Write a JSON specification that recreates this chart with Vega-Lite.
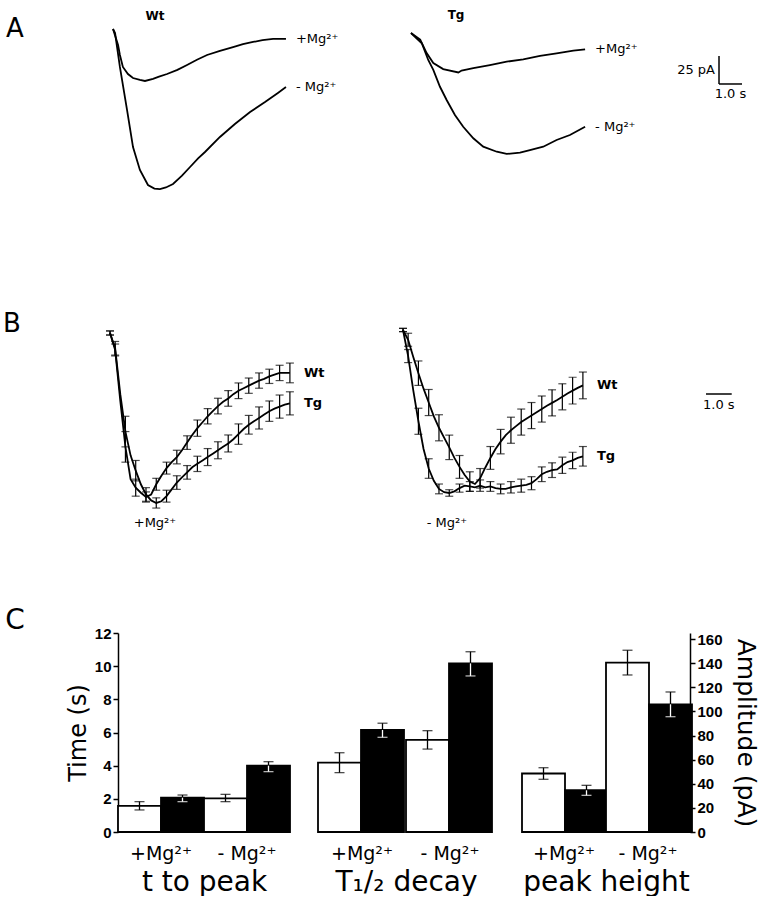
{
  "$schema": "https://vega.github.io/schema/vega-lite/v6.json",
  "padding": 0,
  "background": "white",
  "columns": 4,
  "align": "each",
  "bounds": "flush",
  "spacing": {"row": 0, "column": 28},
  "config": {"view": {"stroke": null}, "font": "DejaVu Sans", "axis": {"grid": false}},
  "datasets": {
    "traceA": [
      {"geno":"Wt","cond":"+Mg²⁺","t":0,"I":0},{"geno":"Wt","cond":"+Mg²⁺","t":0.22,"I":-14.3},{"geno":"Wt","cond":"+Mg²⁺","t":0.3,"I":-23.2},{"geno":"Wt","cond":"+Mg²⁺","t":0.43,"I":-33.9},{"geno":"Wt","cond":"+Mg²⁺","t":0.65,"I":-40.2},{"geno":"Wt","cond":"+Mg²⁺","t":0.87,"I":-43.8},{"geno":"Wt","cond":"+Mg²⁺","t":1.17,"I":-45.5},{"geno":"Wt","cond":"+Mg²⁺","t":1.39,"I":-46.4},{"geno":"Wt","cond":"+Mg²⁺","t":1.74,"I":-44.6},{"geno":"Wt","cond":"+Mg²⁺","t":2.0,"I":-42.5},{"geno":"Wt","cond":"+Mg²⁺","t":2.35,"I":-40.2},{"geno":"Wt","cond":"+Mg²⁺","t":2.8,"I":-36.5},{"geno":"Wt","cond":"+Mg²⁺","t":3.22,"I":-32.1},{"geno":"Wt","cond":"+Mg²⁺","t":3.65,"I":-27.5},{"geno":"Wt","cond":"+Mg²⁺","t":4.09,"I":-23.2},{"geno":"Wt","cond":"+Mg²⁺","t":4.65,"I":-19.5},{"geno":"Wt","cond":"+Mg²⁺","t":5.22,"I":-16.1},{"geno":"Wt","cond":"+Mg²⁺","t":5.65,"I":-13.5},{"geno":"Wt","cond":"+Mg²⁺","t":6.09,"I":-11.6},{"geno":"Wt","cond":"+Mg²⁺","t":6.5,"I":-10.0},{"geno":"Wt","cond":"+Mg²⁺","t":6.96,"I":-8.9},{"geno":"Wt","cond":"+Mg²⁺","t":7.52,"I":-8.9},
      {"geno":"Wt","cond":"- Mg²⁺","t":0,"I":0},{"geno":"Wt","cond":"- Mg²⁺","t":0.09,"I":-3.6},{"geno":"Wt","cond":"- Mg²⁺","t":0.3,"I":-33.9},{"geno":"Wt","cond":"- Mg²⁺","t":0.61,"I":-72.3},{"geno":"Wt","cond":"- Mg²⁺","t":0.87,"I":-105.4},{"geno":"Wt","cond":"- Mg²⁺","t":1.17,"I":-125.9},{"geno":"Wt","cond":"- Mg²⁺","t":1.52,"I":-139.3},{"geno":"Wt","cond":"- Mg²⁺","t":1.8,"I":-142.5},{"geno":"Wt","cond":"- Mg²⁺","t":2.04,"I":-142.9},{"geno":"Wt","cond":"- Mg²⁺","t":2.3,"I":-141.5},{"geno":"Wt","cond":"- Mg²⁺","t":2.61,"I":-138.4},{"geno":"Wt","cond":"- Mg²⁺","t":3.0,"I":-131.0},{"geno":"Wt","cond":"- Mg²⁺","t":3.35,"I":-123.2},{"geno":"Wt","cond":"- Mg²⁺","t":3.7,"I":-115.5},{"geno":"Wt","cond":"- Mg²⁺","t":4.0,"I":-109.8},{"geno":"Wt","cond":"- Mg²⁺","t":4.65,"I":-96.4},{"geno":"Wt","cond":"- Mg²⁺","t":5.3,"I":-84.8},{"geno":"Wt","cond":"- Mg²⁺","t":5.96,"I":-74.1},{"geno":"Wt","cond":"- Mg²⁺","t":6.61,"I":-65.2},{"geno":"Wt","cond":"- Mg²⁺","t":7.17,"I":-57.1},{"geno":"Wt","cond":"- Mg²⁺","t":7.52,"I":-51.8},
      {"geno":"Tg","cond":"+Mg²⁺","t":0,"I":0},{"geno":"Tg","cond":"+Mg²⁺","t":0.4,"I":-6.0},{"geno":"Tg","cond":"+Mg²⁺","t":0.68,"I":-17.9},{"geno":"Tg","cond":"+Mg²⁺","t":0.97,"I":-26.8},{"geno":"Tg","cond":"+Mg²⁺","t":1.4,"I":-32.2},{"geno":"Tg","cond":"+Mg²⁺","t":2.06,"I":-35.2},{"geno":"Tg","cond":"+Mg²⁺","t":2.2,"I":-33.5},{"geno":"Tg","cond":"+Mg²⁺","t":2.71,"I":-31.4},{"geno":"Tg","cond":"+Mg²⁺","t":3.43,"I":-28.6},{"geno":"Tg","cond":"+Mg²⁺","t":4.16,"I":-25.6},{"geno":"Tg","cond":"+Mg²⁺","t":4.88,"I":-23.5},{"geno":"Tg","cond":"+Mg²⁺","t":5.61,"I":-20.5},{"geno":"Tg","cond":"+Mg²⁺","t":6.33,"I":-18.1},{"geno":"Tg","cond":"+Mg²⁺","t":7.06,"I":-15.8},{"geno":"Tg","cond":"+Mg²⁺","t":7.57,"I":-14.6},
      {"geno":"Tg","cond":"- Mg²⁺","t":0,"I":0},{"geno":"Tg","cond":"- Mg²⁺","t":0.47,"I":-9.2},{"geno":"Tg","cond":"- Mg²⁺","t":0.75,"I":-24.1},{"geno":"Tg","cond":"- Mg²⁺","t":0.97,"I":-33.0},{"geno":"Tg","cond":"- Mg²⁺","t":1.26,"I":-48.0},{"geno":"Tg","cond":"- Mg²⁺","t":1.55,"I":-59.8},{"geno":"Tg","cond":"- Mg²⁺","t":1.91,"I":-73.2},{"geno":"Tg","cond":"- Mg²⁺","t":2.27,"I":-83.7},{"geno":"Tg","cond":"- Mg²⁺","t":2.71,"I":-94.0},{"geno":"Tg","cond":"- Mg²⁺","t":3.14,"I":-101.5},{"geno":"Tg","cond":"- Mg²⁺","t":3.73,"I":-106.0},{"geno":"Tg","cond":"- Mg²⁺","t":4.16,"I":-108.0},{"geno":"Tg","cond":"- Mg²⁺","t":4.74,"I":-106.9},{"geno":"Tg","cond":"- Mg²⁺","t":5.17,"I":-104.5},{"geno":"Tg","cond":"- Mg²⁺","t":5.75,"I":-101.5},{"geno":"Tg","cond":"- Mg²⁺","t":6.33,"I":-95.5},{"geno":"Tg","cond":"- Mg²⁺","t":6.91,"I":-91.1},{"geno":"Tg","cond":"- Mg²⁺","t":7.57,"I":-83.7}
    ],
    "traceB": [
      {"cond":"+Mg","geno":"Wt","t":0,"v":0,"e":0.012},{"cond":"+Mg","geno":"Wt","t":0.2,"v":-0.1,"e":0.035},{"cond":"+Mg","geno":"Wt","t":0.4,"v":-0.4},{"cond":"+Mg","geno":"Wt","t":0.6,"v":-0.67,"e":0.09},{"cond":"+Mg","geno":"Wt","t":0.8,"v":-0.86},{"cond":"+Mg","geno":"Wt","t":1.0,"v":-0.91,"e":0.05},{"cond":"+Mg","geno":"Wt","t":1.2,"v":-0.94},{"cond":"+Mg","geno":"Wt","t":1.4,"v":-0.965,"e":0.03},{"cond":"+Mg","geno":"Wt","t":1.6,"v":-0.95},{"cond":"+Mg","geno":"Wt","t":1.8,"v":-0.89,"e":0.035},{"cond":"+Mg","geno":"Wt","t":2.0,"v":-0.84},{"cond":"+Mg","geno":"Wt","t":2.2,"v":-0.795,"e":0.035},{"cond":"+Mg","geno":"Wt","t":2.4,"v":-0.76},{"cond":"+Mg","geno":"Wt","t":2.6,"v":-0.73,"e":0.04},{"cond":"+Mg","geno":"Wt","t":2.8,"v":-0.69},{"cond":"+Mg","geno":"Wt","t":3.0,"v":-0.645,"e":0.04},{"cond":"+Mg","geno":"Wt","t":3.2,"v":-0.6},{"cond":"+Mg","geno":"Wt","t":3.4,"v":-0.56,"e":0.048},{"cond":"+Mg","geno":"Wt","t":3.6,"v":-0.525},{"cond":"+Mg","geno":"Wt","t":3.8,"v":-0.49,"e":0.045},{"cond":"+Mg","geno":"Wt","t":4.0,"v":-0.46},{"cond":"+Mg","geno":"Wt","t":4.2,"v":-0.43,"e":0.046},{"cond":"+Mg","geno":"Wt","t":4.4,"v":-0.405},{"cond":"+Mg","geno":"Wt","t":4.6,"v":-0.385,"e":0.046},{"cond":"+Mg","geno":"Wt","t":4.8,"v":-0.36},{"cond":"+Mg","geno":"Wt","t":5.0,"v":-0.34,"e":0.046},{"cond":"+Mg","geno":"Wt","t":5.2,"v":-0.325},{"cond":"+Mg","geno":"Wt","t":5.4,"v":-0.31,"e":0.045},{"cond":"+Mg","geno":"Wt","t":5.6,"v":-0.295},{"cond":"+Mg","geno":"Wt","t":5.8,"v":-0.28,"e":0.045},{"cond":"+Mg","geno":"Wt","t":6.0,"v":-0.27},{"cond":"+Mg","geno":"Wt","t":6.2,"v":-0.255,"e":0.042},{"cond":"+Mg","geno":"Wt","t":6.4,"v":-0.245},{"cond":"+Mg","geno":"Wt","t":6.6,"v":-0.235,"e":0.045},{"cond":"+Mg","geno":"Wt","t":6.8,"v":-0.235},{"cond":"+Mg","geno":"Wt","t":7.0,"v":-0.235,"e":0.058},
      {"cond":"+Mg","geno":"Tg","t":0,"v":0,"e":0.012},{"cond":"+Mg","geno":"Tg","t":0.2,"v":-0.09,"e":0.04},{"cond":"+Mg","geno":"Tg","t":0.4,"v":-0.36},{"cond":"+Mg","geno":"Tg","t":0.6,"v":-0.58,"e":0.09},{"cond":"+Mg","geno":"Tg","t":0.8,"v":-0.72},{"cond":"+Mg","geno":"Tg","t":1.0,"v":-0.81,"e":0.06},{"cond":"+Mg","geno":"Tg","t":1.2,"v":-0.89},{"cond":"+Mg","geno":"Tg","t":1.4,"v":-0.95,"e":0.04},{"cond":"+Mg","geno":"Tg","t":1.6,"v":-0.985},{"cond":"+Mg","geno":"Tg","t":1.8,"v":-1.0,"e":0.03},{"cond":"+Mg","geno":"Tg","t":2.0,"v":-0.99},{"cond":"+Mg","geno":"Tg","t":2.2,"v":-0.96,"e":0.035},{"cond":"+Mg","geno":"Tg","t":2.4,"v":-0.92},{"cond":"+Mg","geno":"Tg","t":2.6,"v":-0.88,"e":0.04},{"cond":"+Mg","geno":"Tg","t":2.8,"v":-0.85},{"cond":"+Mg","geno":"Tg","t":3.0,"v":-0.82,"e":0.04},{"cond":"+Mg","geno":"Tg","t":3.2,"v":-0.79},{"cond":"+Mg","geno":"Tg","t":3.4,"v":-0.77,"e":0.045},{"cond":"+Mg","geno":"Tg","t":3.6,"v":-0.75},{"cond":"+Mg","geno":"Tg","t":3.8,"v":-0.73,"e":0.05},{"cond":"+Mg","geno":"Tg","t":4.0,"v":-0.71},{"cond":"+Mg","geno":"Tg","t":4.2,"v":-0.69,"e":0.05},{"cond":"+Mg","geno":"Tg","t":4.4,"v":-0.67},{"cond":"+Mg","geno":"Tg","t":4.6,"v":-0.65,"e":0.05},{"cond":"+Mg","geno":"Tg","t":4.8,"v":-0.625},{"cond":"+Mg","geno":"Tg","t":5.0,"v":-0.595,"e":0.06},{"cond":"+Mg","geno":"Tg","t":5.2,"v":-0.565},{"cond":"+Mg","geno":"Tg","t":5.4,"v":-0.54,"e":0.055},{"cond":"+Mg","geno":"Tg","t":5.6,"v":-0.52},{"cond":"+Mg","geno":"Tg","t":5.8,"v":-0.5,"e":0.065},{"cond":"+Mg","geno":"Tg","t":6.0,"v":-0.48},{"cond":"+Mg","geno":"Tg","t":6.2,"v":-0.46,"e":0.06},{"cond":"+Mg","geno":"Tg","t":6.4,"v":-0.445},{"cond":"+Mg","geno":"Tg","t":6.6,"v":-0.433,"e":0.068},{"cond":"+Mg","geno":"Tg","t":6.8,"v":-0.422},{"cond":"+Mg","geno":"Tg","t":7.0,"v":-0.414,"e":0.068},
      {"cond":"-Mg","geno":"Wt","t":0,"v":0,"e":0.01},{"cond":"-Mg","geno":"Wt","t":0.2,"v":-0.06,"e":0.04},{"cond":"-Mg","geno":"Wt","t":0.4,"v":-0.165},{"cond":"-Mg","geno":"Wt","t":0.6,"v":-0.265,"e":0.075},{"cond":"-Mg","geno":"Wt","t":0.8,"v":-0.36},{"cond":"-Mg","geno":"Wt","t":1.0,"v":-0.445,"e":0.08},{"cond":"-Mg","geno":"Wt","t":1.2,"v":-0.53},{"cond":"-Mg","geno":"Wt","t":1.4,"v":-0.6,"e":0.08},{"cond":"-Mg","geno":"Wt","t":1.6,"v":-0.66},{"cond":"-Mg","geno":"Wt","t":1.8,"v":-0.72,"e":0.075},{"cond":"-Mg","geno":"Wt","t":2.0,"v":-0.785},{"cond":"-Mg","geno":"Wt","t":2.2,"v":-0.84,"e":0.07},{"cond":"-Mg","geno":"Wt","t":2.4,"v":-0.89},{"cond":"-Mg","geno":"Wt","t":2.6,"v":-0.93,"e":0.06},{"cond":"-Mg","geno":"Wt","t":2.8,"v":-0.945},{"cond":"-Mg","geno":"Wt","t":3.0,"v":-0.91,"e":0.06},{"cond":"-Mg","geno":"Wt","t":3.2,"v":-0.845},{"cond":"-Mg","geno":"Wt","t":3.4,"v":-0.785,"e":0.07},{"cond":"-Mg","geno":"Wt","t":3.6,"v":-0.73},{"cond":"-Mg","geno":"Wt","t":3.8,"v":-0.685,"e":0.075},{"cond":"-Mg","geno":"Wt","t":4.0,"v":-0.645},{"cond":"-Mg","geno":"Wt","t":4.2,"v":-0.615,"e":0.08},{"cond":"-Mg","geno":"Wt","t":4.4,"v":-0.59},{"cond":"-Mg","geno":"Wt","t":4.6,"v":-0.565,"e":0.08},{"cond":"-Mg","geno":"Wt","t":4.8,"v":-0.545},{"cond":"-Mg","geno":"Wt","t":5.0,"v":-0.525,"e":0.08},{"cond":"-Mg","geno":"Wt","t":5.2,"v":-0.505},{"cond":"-Mg","geno":"Wt","t":5.4,"v":-0.485,"e":0.08},{"cond":"-Mg","geno":"Wt","t":5.6,"v":-0.465},{"cond":"-Mg","geno":"Wt","t":5.8,"v":-0.447,"e":0.08},{"cond":"-Mg","geno":"Wt","t":6.0,"v":-0.43},{"cond":"-Mg","geno":"Wt","t":6.2,"v":-0.41,"e":0.08},{"cond":"-Mg","geno":"Wt","t":6.4,"v":-0.39},{"cond":"-Mg","geno":"Wt","t":6.6,"v":-0.372,"e":0.082},{"cond":"-Mg","geno":"Wt","t":6.8,"v":-0.355},{"cond":"-Mg","geno":"Wt","t":7.0,"v":-0.34,"e":0.082},
      {"cond":"-Mg","geno":"Tg","t":0,"v":0,"e":0.01},{"cond":"-Mg","geno":"Tg","t":0.2,"v":-0.16,"e":0.04},{"cond":"-Mg","geno":"Tg","t":0.4,"v":-0.37},{"cond":"-Mg","geno":"Tg","t":0.6,"v":-0.56,"e":0.08},{"cond":"-Mg","geno":"Tg","t":0.8,"v":-0.73},{"cond":"-Mg","geno":"Tg","t":1.0,"v":-0.85,"e":0.06},{"cond":"-Mg","geno":"Tg","t":1.2,"v":-0.925},{"cond":"-Mg","geno":"Tg","t":1.4,"v":-0.975,"e":0.03},{"cond":"-Mg","geno":"Tg","t":1.6,"v":-0.995},{"cond":"-Mg","geno":"Tg","t":1.8,"v":-1.0,"e":0.02},{"cond":"-Mg","geno":"Tg","t":2.0,"v":-0.99},{"cond":"-Mg","geno":"Tg","t":2.2,"v":-0.97,"e":0.025},{"cond":"-Mg","geno":"Tg","t":2.4,"v":-0.955},{"cond":"-Mg","geno":"Tg","t":2.6,"v":-0.96,"e":0.03},{"cond":"-Mg","geno":"Tg","t":2.8,"v":-0.965},{"cond":"-Mg","geno":"Tg","t":3.0,"v":-0.955,"e":0.035},{"cond":"-Mg","geno":"Tg","t":3.2,"v":-0.965},{"cond":"-Mg","geno":"Tg","t":3.4,"v":-0.96,"e":0.03},{"cond":"-Mg","geno":"Tg","t":3.6,"v":-0.97},{"cond":"-Mg","geno":"Tg","t":3.8,"v":-0.975,"e":0.03},{"cond":"-Mg","geno":"Tg","t":4.0,"v":-0.975},{"cond":"-Mg","geno":"Tg","t":4.2,"v":-0.965,"e":0.035},{"cond":"-Mg","geno":"Tg","t":4.4,"v":-0.96},{"cond":"-Mg","geno":"Tg","t":4.6,"v":-0.955,"e":0.04},{"cond":"-Mg","geno":"Tg","t":4.8,"v":-0.95},{"cond":"-Mg","geno":"Tg","t":5.0,"v":-0.94,"e":0.04},{"cond":"-Mg","geno":"Tg","t":5.2,"v":-0.915},{"cond":"-Mg","geno":"Tg","t":5.4,"v":-0.885,"e":0.045},{"cond":"-Mg","geno":"Tg","t":5.6,"v":-0.87},{"cond":"-Mg","geno":"Tg","t":5.8,"v":-0.86,"e":0.045},{"cond":"-Mg","geno":"Tg","t":6.0,"v":-0.855},{"cond":"-Mg","geno":"Tg","t":6.2,"v":-0.83,"e":0.05},{"cond":"-Mg","geno":"Tg","t":6.4,"v":-0.81},{"cond":"-Mg","geno":"Tg","t":6.6,"v":-0.8,"e":0.05},{"cond":"-Mg","geno":"Tg","t":6.8,"v":-0.785},{"cond":"-Mg","geno":"Tg","t":7.0,"v":-0.775,"e":0.06}
    ],
    "bars": [
      {"measure":"peak time","cond":"+Mg²⁺","geno":"Wt","mean":1.57,"lo":1.33,"hi":1.83},
      {"measure":"peak time","cond":"+Mg²⁺","geno":"Tg","mean":2.07,"lo":1.83,"hi":2.23},
      {"measure":"peak time","cond":"- Mg²⁺","geno":"Wt","mean":2.03,"lo":1.83,"hi":2.27},
      {"measure":"peak time","cond":"- Mg²⁺","geno":"Tg","mean":4.0,"lo":3.64,"hi":4.24},
      {"measure":"decay","cond":"+Mg²⁺","geno":"Wt","mean":4.18,"lo":3.58,"hi":4.78},
      {"measure":"decay","cond":"+Mg²⁺","geno":"Tg","mean":6.15,"lo":5.71,"hi":6.56},
      {"measure":"decay","cond":"- Mg²⁺","geno":"Wt","mean":5.55,"lo":5.0,"hi":6.11},
      {"measure":"decay","cond":"- Mg²⁺","geno":"Tg","mean":10.17,"lo":9.41,"hi":10.87},
      {"measure":"amplitude","cond":"+Mg²⁺","geno":"Wt","mean":48.5,"lo":43.7,"hi":53.3},
      {"measure":"amplitude","cond":"+Mg²⁺","geno":"Tg","mean":34.6,"lo":30.4,"hi":38.7},
      {"measure":"amplitude","cond":"- Mg²⁺","geno":"Wt","mean":140.4,"lo":130.2,"hi":150.7},
      {"measure":"amplitude","cond":"- Mg²⁺","geno":"Tg","mean":105.9,"lo":95.6,"hi":116.1}
    ]
  },
  "concat": [
    {"width": 90, "height": 58, "data": {"values": [{"label": "A"}]},
     "mark": {"type": "text", "fontSize": 26, "align": "center", "baseline": "middle", "dx": -30, "color": "black"},
     "encoding": {"text": {"field": "label"}}},
    {"width": 172, "height": 300,
     "layer": [
       {"data": {"name": "traceA"}, "transform": [{"filter": "datum.geno == 'Wt'"}],
        "mark": {"type": "line", "color": "black", "strokeWidth": 1.8},
        "encoding": {"x": {"field": "t", "type": "quantitative", "scale": {"domain": [0.2174, 7.6957], "nice": false, "zero": false}, "axis": null},
                     "y": {"field": "I", "type": "quantitative", "scale": {"domain": [-241.96, 25.89], "nice": false, "zero": false}, "axis": null},
                     "detail": {"field": "cond"}}},
       {"data": {"name": "traceA"}, "transform": [{"filter": "datum.geno == 'Wt'"}, {"aggregate": [{"op": "argmax", "field": "t", "as": "last"}], "groupby": ["cond"]}],
        "mark": {"type": "text", "align": "left", "baseline": "middle", "dx": 10, "fontSize": 13, "color": "black"},
        "encoding": {"x": {"field": "last.t", "type": "quantitative", "axis": null}, "y": {"field": "last.I", "type": "quantitative", "axis": null}, "text": {"field": "cond"}}},
       {"data": {"values": [{"t": 1.83, "I": 11.6, "label": "Wt"}]},
        "mark": {"type": "text", "fontSize": 12, "fontWeight": "bold", "color": "black"},
        "encoding": {"x": {"field": "t", "type": "quantitative", "axis": null}, "y": {"field": "I", "type": "quantitative", "axis": null}, "text": {"field": "label"}}}
     ]},
    {"width": 176, "height": 300,
     "layer": [
       {"data": {"name": "traceA"}, "transform": [{"filter": "datum.geno == 'Tg'"}],
        "mark": {"type": "line", "color": "black", "strokeWidth": 1.8},
        "encoding": {"x": {"field": "t", "type": "quantitative", "scale": {"domain": [-4.043, 3.609], "nice": false, "zero": false}, "axis": null},
                     "y": {"field": "I", "type": "quantitative", "scale": {"domain": [-238.39, 29.46], "nice": false, "zero": false}, "axis": null},
                     "detail": {"field": "cond"}}},
       {"data": {"name": "traceA"}, "transform": [{"filter": "datum.geno == 'Tg'"}, {"aggregate": [{"op": "argmax", "field": "t", "as": "last"}], "groupby": ["cond"]}],
        "mark": {"type": "text", "align": "left", "baseline": "middle", "dx": 10, "fontSize": 13, "color": "black"},
        "encoding": {"x": {"field": "last.t", "type": "quantitative", "axis": null}, "y": {"field": "last.I", "type": "quantitative", "axis": null}, "text": {"field": "cond"}}},
       {"data": {"values": [{"t": 1.96, "I": 16.1, "label": "Tg"}]},
        "mark": {"type": "text", "fontSize": 12, "fontWeight": "bold", "color": "black"},
        "encoding": {"x": {"field": "t", "type": "quantitative", "axis": null}, "y": {"field": "I", "type": "quantitative", "axis": null}, "text": {"field": "label"}}}
     ]},
    {"width": 168, "height": 300,
     "layer": [
       {"data": {"values": [{"t": 0, "t2": 0, "I": -49.1, "I2": -24.1}, {"t": 0, "t2": 1, "I": -49.1, "I2": -49.1}]},
        "mark": {"type": "rule", "color": "black", "strokeWidth": 1.5},
        "encoding": {"x": {"field": "t", "type": "quantitative", "scale": {"domain": [-8.565, -1.261], "nice": false, "zero": false}, "axis": null}, "x2": {"field": "t2"},
                     "y": {"field": "I", "type": "quantitative", "scale": {"domain": [-241.96, 25.89], "nice": false, "zero": false}, "axis": null}, "y2": {"field": "I2"}}},
       {"data": {"values": [{"t": 0, "I": -36.6, "label": "25 pA"}]},
        "mark": {"type": "text", "align": "right", "baseline": "middle", "dx": -4, "fontSize": 13, "color": "black"},
        "encoding": {"x": {"field": "t", "type": "quantitative", "axis": null}, "y": {"field": "I", "type": "quantitative", "axis": null}, "text": {"field": "label"}}},
       {"data": {"values": [{"t": 0.5, "I": -49.1, "label": "1.0 s"}]},
        "mark": {"type": "text", "align": "center", "baseline": "top", "dy": 4, "fontSize": 13, "color": "black"},
        "encoding": {"x": {"field": "t", "type": "quantitative", "axis": null}, "y": {"field": "I", "type": "quantitative", "axis": null}, "text": {"field": "label"}}}
     ]},
    {"width": 90, "height": 48, "data": {"values": [{"label": "B"}]},
     "mark": {"type": "text", "fontSize": 26, "align": "center", "baseline": "middle", "dx": -33, "color": "black"},
     "encoding": {"text": {"field": "label"}}},
    {"width": 172, "height": 333,
     "layer": [
       {"data": {"name": "traceB"}, "transform": [{"filter": "datum.cond == '+Mg'"}],
        "mark": {"type": "line", "color": "black", "strokeWidth": 1.8},
        "encoding": {"x": {"field": "t", "type": "quantitative", "scale": {"domain": [0.311, 7.004], "nice": false, "zero": false}, "axis": null},
                     "y": {"field": "v", "type": "quantitative", "scale": {"domain": [-1.765, 0.194], "nice": false, "zero": false}, "axis": null},
                     "detail": {"field": "geno"}}},
       {"data": {"name": "traceB"}, "transform": [{"filter": "datum.cond == '+Mg' && isValid(datum.e)"}],
        "mark": {"type": "errorbar", "color": "black", "thickness": 1.2, "ticks": {"size": 8}},
        "encoding": {"x": {"field": "t", "type": "quantitative", "axis": null},
                     "y": {"field": "v", "type": "quantitative", "axis": null},
                     "yError": {"field": "e"}}},
       {"data": {"name": "traceB"}, "transform": [{"filter": "datum.cond == '+Mg'"}, {"aggregate": [{"op": "argmax", "field": "t", "as": "last"}], "groupby": ["geno"]}],
        "mark": {"type": "text", "align": "left", "baseline": "middle", "dx": 14, "fontSize": 13, "fontWeight": "bold", "color": "black"},
        "encoding": {"x": {"field": "last.t", "type": "quantitative", "axis": null}, "y": {"field": "last.v", "type": "quantitative", "axis": null}, "text": {"field": "geno"}}},
       {"data": {"values": [{"t": 1.75, "v": -1.118, "label": "+Mg²⁺"}]},
        "mark": {"type": "text", "fontSize": 13, "color": "black"},
        "encoding": {"x": {"field": "t", "type": "quantitative", "axis": null}, "y": {"field": "v", "type": "quantitative", "axis": null}, "text": {"field": "label"}}}
     ]},
    {"width": 176, "height": 333,
     "layer": [
       {"data": {"name": "traceB"}, "transform": [{"filter": "datum.cond == '-Mg'"}],
        "mark": {"type": "line", "color": "black", "strokeWidth": 1.8},
        "encoding": {"x": {"field": "t", "type": "quantitative", "scale": {"domain": [-3.307, 3.541], "nice": false, "zero": false}, "axis": null},
                     "y": {"field": "v", "type": "quantitative", "scale": {"domain": [-1.859, 0.184], "nice": false, "zero": false}, "axis": null},
                     "detail": {"field": "geno"}}},
       {"data": {"name": "traceB"}, "transform": [{"filter": "datum.cond == '-Mg' && isValid(datum.e)"}],
        "mark": {"type": "errorbar", "color": "black", "thickness": 1.2, "ticks": {"size": 8}},
        "encoding": {"x": {"field": "t", "type": "quantitative", "axis": null},
                     "y": {"field": "v", "type": "quantitative", "axis": null},
                     "yError": {"field": "e"}}},
       {"data": {"name": "traceB"}, "transform": [{"filter": "datum.cond == '-Mg'"}, {"aggregate": [{"op": "argmax", "field": "t", "as": "last"}], "groupby": ["geno"]}],
        "mark": {"type": "text", "align": "left", "baseline": "middle", "dx": 14, "fontSize": 13, "fontWeight": "bold", "color": "black"},
        "encoding": {"x": {"field": "last.t", "type": "quantitative", "axis": null}, "y": {"field": "last.v", "type": "quantitative", "axis": null}, "text": {"field": "geno"}}},
       {"data": {"values": [{"t": 1.71, "v": -1.184, "label": "- Mg²⁺"}]},
        "mark": {"type": "text", "fontSize": 13, "color": "black"},
        "encoding": {"x": {"field": "t", "type": "quantitative", "axis": null}, "y": {"field": "v", "type": "quantitative", "axis": null}, "text": {"field": "label"}}}
     ]},
    {"width": 168, "height": 333,
     "layer": [
       {"data": {"values": [{"t": 0, "t2": 1, "v": -0.359}]},
        "mark": {"type": "rule", "color": "black", "strokeWidth": 1.5},
        "encoding": {"x": {"field": "t", "type": "quantitative", "scale": {"domain": [-7.16, -0.623], "nice": false, "zero": false}, "axis": null}, "x2": {"field": "t2"},
                     "y": {"field": "v", "type": "quantitative", "scale": {"domain": [-1.765, 0.194], "nice": false, "zero": false}, "axis": null}}},
       {"data": {"values": [{"t": 0.5, "v": -0.359, "label": "1.0 s"}]},
        "mark": {"type": "text", "align": "center", "baseline": "top", "dy": 5, "fontSize": 13, "color": "black"},
        "encoding": {"x": {"field": "t", "type": "quantitative", "axis": null}, "y": {"field": "v", "type": "quantitative", "axis": null}, "text": {"field": "label"}}}
     ]},
    {"width": 90, "height": 2, "data": {"values": [{"label": "C"}]},
     "mark": {"type": "text", "fontSize": 28, "align": "center", "baseline": "middle", "dx": -30, "dy": -13, "color": "black"},
     "encoding": {"text": {"field": "label"}}},
    {"width": 172, "height": 199, "data": {"name": "bars"},
     "transform": [{"filter": "datum.measure == 'peak time'"}],
     "encoding": {
       "x": {"field": "cond", "type": "nominal", "sort": ["+Mg²⁺", "- Mg²⁺"], "scale": {"paddingInner": 0, "paddingOuter": 0},
             "axis": {"title": "t to peak", "labelAngle": 0, "domain": false, "ticks": false, "tickSize": 0, "labelFont": "DejaVu Sans", "labelFontSize": 19, "labelColor": "black", "labelPadding": 12, "titleFont": "DejaVu Sans", "titleFontSize": 28, "titleFontWeight": "normal", "titleColor": "black", "titlePadding": 5}},
       "xOffset": {"field": "geno", "type": "nominal", "sort": ["Wt", "Tg"], "scale": {"paddingInner": 0, "paddingOuter": 0}}
     },
     "layer": [
       {"mark": {"type": "bar", "stroke": "black", "strokeWidth": 1.8},
        "encoding": {"y": {"field": "mean", "type": "quantitative", "scale": {"domain": [0, 12], "nice": false},
                           "axis": {"orient": "left", "values": [0, 2, 4, 6, 8, 10, 12], "labelOverlap": false, "title": "Time (s)", "domainColor": "black", "domainWidth": 1.5, "tickColor": "black", "tickWidth": 1.5, "tickSize": 5, "labelFont": "Liberation Sans", "labelFontWeight": "bold", "labelFontSize": 15, "labelColor": "black", "labelPadding": 2, "titleFont": "DejaVu Sans", "titleFontSize": 24, "titleFontWeight": "normal", "titleColor": "black", "titlePadding": 4}},
                     "fill": {"field": "geno", "type": "nominal", "scale": {"domain": ["Wt", "Tg"], "range": ["white", "black"]}, "legend": null}}},
       {"mark": {"type": "rule", "color": "black", "strokeWidth": 1.3},
        "encoding": {"y": {"field": "mean", "type": "quantitative",
                           "axis": {"orient": "left", "values": [0, 2, 4, 6, 8, 10, 12], "labelOverlap": false, "title": "Time (s)", "domainColor": "black", "domainWidth": 1.5, "tickColor": "black", "tickWidth": 1.5, "tickSize": 5, "labelFont": "Liberation Sans", "labelFontWeight": "bold", "labelFontSize": 15, "labelColor": "black", "labelPadding": 2, "titleFont": "DejaVu Sans", "titleFontSize": 24, "titleFontWeight": "normal", "titleColor": "black", "titlePadding": 4}},
                     "y2": {"field": "hi"}}},
       {"mark": {"type": "rule", "strokeWidth": 1.3},
        "encoding": {"y": {"field": "lo", "type": "quantitative",
                           "axis": {"orient": "left", "values": [0, 2, 4, 6, 8, 10, 12], "labelOverlap": false, "title": "Time (s)", "domainColor": "black", "domainWidth": 1.5, "tickColor": "black", "tickWidth": 1.5, "tickSize": 5, "labelFont": "Liberation Sans", "labelFontWeight": "bold", "labelFontSize": 15, "labelColor": "black", "labelPadding": 2, "titleFont": "DejaVu Sans", "titleFontSize": 24, "titleFontWeight": "normal", "titleColor": "black", "titlePadding": 4}},
                     "y2": {"field": "mean"},
                     "color": {"field": "geno", "type": "nominal", "scale": {"domain": ["Wt", "Tg"], "range": ["black", "white"]}, "legend": null}}},
       {"mark": {"type": "tick", "color": "black", "size": 10, "thickness": 1.3},
        "encoding": {"y": {"field": "hi", "type": "quantitative",
                           "axis": {"orient": "left", "values": [0, 2, 4, 6, 8, 10, 12], "labelOverlap": false, "title": "Time (s)", "domainColor": "black", "domainWidth": 1.5, "tickColor": "black", "tickWidth": 1.5, "tickSize": 5, "labelFont": "Liberation Sans", "labelFontWeight": "bold", "labelFontSize": 15, "labelColor": "black", "labelPadding": 2, "titleFont": "DejaVu Sans", "titleFontSize": 24, "titleFontWeight": "normal", "titleColor": "black", "titlePadding": 4}}}},
       {"mark": {"type": "tick", "size": 10, "thickness": 1.3},
        "encoding": {"y": {"field": "lo", "type": "quantitative",
                           "axis": {"orient": "left", "values": [0, 2, 4, 6, 8, 10, 12], "labelOverlap": false, "title": "Time (s)", "domainColor": "black", "domainWidth": 1.5, "tickColor": "black", "tickWidth": 1.5, "tickSize": 5, "labelFont": "Liberation Sans", "labelFontWeight": "bold", "labelFontSize": 15, "labelColor": "black", "labelPadding": 2, "titleFont": "DejaVu Sans", "titleFontSize": 24, "titleFontWeight": "normal", "titleColor": "black", "titlePadding": 4}},
                     "color": {"field": "geno", "type": "nominal", "scale": {"domain": ["Wt", "Tg"], "range": ["black", "white"]}, "legend": null}}}
     ]},
    {"width": 176, "height": 199, "data": {"name": "bars"},
     "transform": [{"filter": "datum.measure == 'decay'"}],
     "encoding": {
       "x": {"field": "cond", "type": "nominal", "sort": ["+Mg²⁺", "- Mg²⁺"], "scale": {"paddingInner": 0, "paddingOuter": 0},
             "axis": {"title": "T₁/₂ decay", "labelAngle": 0, "domain": false, "ticks": false, "tickSize": 0, "labelFont": "DejaVu Sans", "labelFontSize": 19, "labelColor": "black", "labelPadding": 12, "titleFont": "DejaVu Sans", "titleFontSize": 28, "titleFontWeight": "normal", "titleColor": "black", "titlePadding": 5}},
       "xOffset": {"field": "geno", "type": "nominal", "sort": ["Wt", "Tg"], "scale": {"paddingInner": 0, "paddingOuter": 0}}
     },
     "layer": [
       {"mark": {"type": "bar", "stroke": "black", "strokeWidth": 1.8},
        "encoding": {"y": {"field": "mean", "type": "quantitative", "scale": {"domain": [0, 12], "nice": false}, "axis": null},
                     "fill": {"field": "geno", "type": "nominal", "scale": {"domain": ["Wt", "Tg"], "range": ["white", "black"]}, "legend": null}}},
       {"mark": {"type": "rule", "color": "black", "strokeWidth": 1.3},
        "encoding": {"y": {"field": "mean", "type": "quantitative", "axis": null}, "y2": {"field": "hi"}}},
       {"mark": {"type": "rule", "strokeWidth": 1.3},
        "encoding": {"y": {"field": "lo", "type": "quantitative", "axis": null}, "y2": {"field": "mean"},
                     "color": {"field": "geno", "type": "nominal", "scale": {"domain": ["Wt", "Tg"], "range": ["black", "white"]}, "legend": null}}},
       {"mark": {"type": "tick", "color": "black", "size": 10, "thickness": 1.3},
        "encoding": {"y": {"field": "hi", "type": "quantitative", "axis": null}}},
       {"mark": {"type": "tick", "size": 10, "thickness": 1.3},
        "encoding": {"y": {"field": "lo", "type": "quantitative", "axis": null},
                     "color": {"field": "geno", "type": "nominal", "scale": {"domain": ["Wt", "Tg"], "range": ["black", "white"]}, "legend": null}}}
     ]},
    {"width": 168, "height": 199, "data": {"name": "bars"},
     "transform": [{"filter": "datum.measure == 'amplitude'"}],
     "encoding": {
       "x": {"field": "cond", "type": "nominal", "sort": ["+Mg²⁺", "- Mg²⁺"], "scale": {"paddingInner": 0, "paddingOuter": 0},
             "axis": {"title": "peak height", "labelAngle": 0, "domain": false, "ticks": false, "tickSize": 0, "labelFont": "DejaVu Sans", "labelFontSize": 19, "labelColor": "black", "labelPadding": 12, "titleFont": "DejaVu Sans", "titleFontSize": 28, "titleFontWeight": "normal", "titleColor": "black", "titlePadding": 5}},
       "xOffset": {"field": "geno", "type": "nominal", "sort": ["Wt", "Tg"], "scale": {"paddingInner": 0, "paddingOuter": 0}}
     },
     "layer": [
       {"mark": {"type": "bar", "stroke": "black", "strokeWidth": 1.8},
        "encoding": {"y": {"field": "mean", "type": "quantitative", "scale": {"domain": [0, 165], "nice": false},
                           "axis": {"orient": "right", "values": [0, 20, 40, 60, 80, 100, 120, 140, 160], "labelOverlap": false, "title": "Amplitude (pA)", "titleAngle": 90, "domainColor": "black", "domainWidth": 1.5, "tickColor": "black", "tickWidth": 1.5, "tickSize": 5, "labelFont": "Liberation Sans", "labelFontWeight": "bold", "labelFontSize": 15, "labelColor": "black", "labelPadding": 2, "titleFont": "DejaVu Sans", "titleFontSize": 25, "titleFontWeight": "normal", "titleColor": "black", "titlePadding": 10}},
                     "fill": {"field": "geno", "type": "nominal", "scale": {"domain": ["Wt", "Tg"], "range": ["white", "black"]}, "legend": null}}},
       {"mark": {"type": "rule", "color": "black", "strokeWidth": 1.3},
        "encoding": {"y": {"field": "mean", "type": "quantitative",
                           "axis": {"orient": "right", "values": [0, 20, 40, 60, 80, 100, 120, 140, 160], "labelOverlap": false, "title": "Amplitude (pA)", "titleAngle": 90, "domainColor": "black", "domainWidth": 1.5, "tickColor": "black", "tickWidth": 1.5, "tickSize": 5, "labelFont": "Liberation Sans", "labelFontWeight": "bold", "labelFontSize": 15, "labelColor": "black", "labelPadding": 2, "titleFont": "DejaVu Sans", "titleFontSize": 25, "titleFontWeight": "normal", "titleColor": "black", "titlePadding": 10}},
                     "y2": {"field": "hi"}}},
       {"mark": {"type": "rule", "strokeWidth": 1.3},
        "encoding": {"y": {"field": "lo", "type": "quantitative",
                           "axis": {"orient": "right", "values": [0, 20, 40, 60, 80, 100, 120, 140, 160], "labelOverlap": false, "title": "Amplitude (pA)", "titleAngle": 90, "domainColor": "black", "domainWidth": 1.5, "tickColor": "black", "tickWidth": 1.5, "tickSize": 5, "labelFont": "Liberation Sans", "labelFontWeight": "bold", "labelFontSize": 15, "labelColor": "black", "labelPadding": 2, "titleFont": "DejaVu Sans", "titleFontSize": 25, "titleFontWeight": "normal", "titleColor": "black", "titlePadding": 10}},
                     "y2": {"field": "mean"},
                     "color": {"field": "geno", "type": "nominal", "scale": {"domain": ["Wt", "Tg"], "range": ["black", "white"]}, "legend": null}}},
       {"mark": {"type": "tick", "color": "black", "size": 10, "thickness": 1.3},
        "encoding": {"y": {"field": "hi", "type": "quantitative",
                           "axis": {"orient": "right", "values": [0, 20, 40, 60, 80, 100, 120, 140, 160], "labelOverlap": false, "title": "Amplitude (pA)", "titleAngle": 90, "domainColor": "black", "domainWidth": 1.5, "tickColor": "black", "tickWidth": 1.5, "tickSize": 5, "labelFont": "Liberation Sans", "labelFontWeight": "bold", "labelFontSize": 15, "labelColor": "black", "labelPadding": 2, "titleFont": "DejaVu Sans", "titleFontSize": 25, "titleFontWeight": "normal", "titleColor": "black", "titlePadding": 10}}}},
       {"mark": {"type": "tick", "size": 10, "thickness": 1.3},
        "encoding": {"y": {"field": "lo", "type": "quantitative",
                           "axis": {"orient": "right", "values": [0, 20, 40, 60, 80, 100, 120, 140, 160], "labelOverlap": false, "title": "Amplitude (pA)", "titleAngle": 90, "domainColor": "black", "domainWidth": 1.5, "tickColor": "black", "tickWidth": 1.5, "tickSize": 5, "labelFont": "Liberation Sans", "labelFontWeight": "bold", "labelFontSize": 15, "labelColor": "black", "labelPadding": 2, "titleFont": "DejaVu Sans", "titleFontSize": 25, "titleFontWeight": "normal", "titleColor": "black", "titlePadding": 10}},
                     "color": {"field": "geno", "type": "nominal", "scale": {"domain": ["Wt", "Tg"], "range": ["black", "white"]}, "legend": null}}}
     ]}
  ]
}
